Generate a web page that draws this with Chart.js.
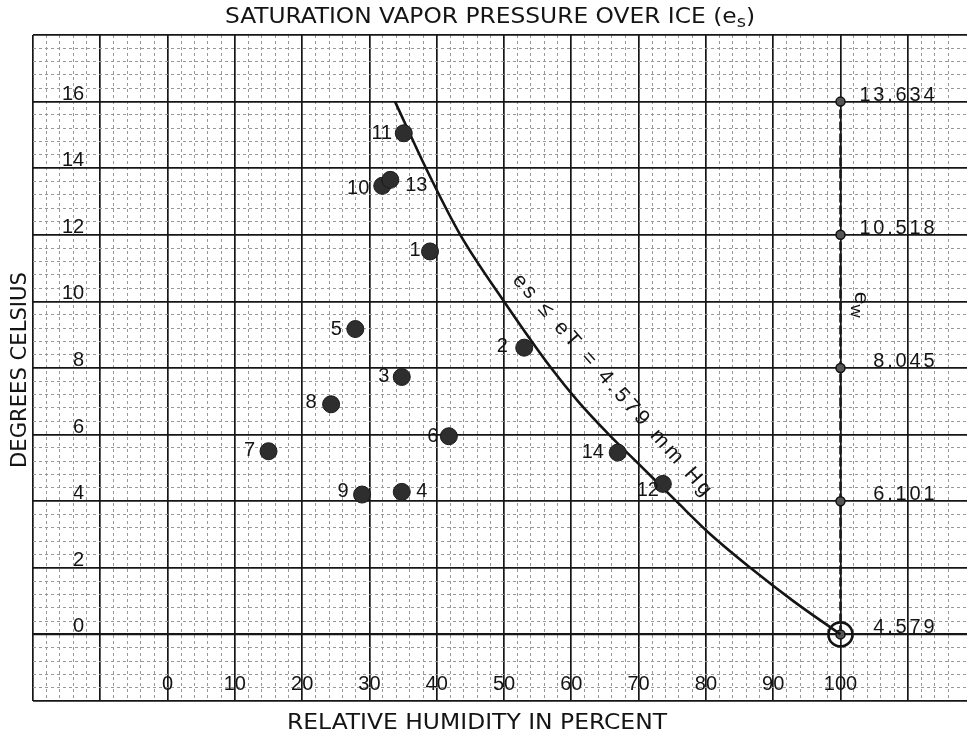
<!DOCTYPE html>
<html>
<head>
<meta charset="utf-8">
<title>Saturation vapor pressure over ice</title>
<script src="https://cdn.jsdelivr.net/npm/chart.js@4.4.1/dist/chart.umd.min.js"></script>
<style>
  html, body { margin: 0; padding: 0; background: #fff; }
  #wrap { width: 967px; height: 734px; }
</style>
</head>
<body>
<div id="wrap"><canvas id="chart" width="967" height="734"></canvas></div>
<script>
// observations: relative humidity (%) and temperature (deg C)
const obsLabels = ['1', '2', '3', '4', '5', '6', '7', '8', '9', '10', '11', '12', '13', '14'];
const obsRH = [39.0, 53.0, 34.8, 34.8, 27.9, 41.8, 15.0, 24.3, 28.9, 31.9, 35.1, 73.6, 33.1, 66.9];
const obsTemp = [11.5, 8.61, 7.73, 4.28, 9.17, 5.95, 5.5, 6.91, 4.2, 13.47, 15.05, 4.52, 13.65, 5.46];

// hand drawn curve es = eT = 4.579 mm Hg
const curveRH = [33.8, 38.4, 43.5, 50.0, 57.0, 61.0, 65.6, 70.6, 75.6, 80.7, 86.6, 93.0, 100];
const curveTemp = [16, 14, 12, 10, 8, 7, 6, 5, 4, 3, 2, 1, 0];

// saturation over water (ew) marked on the 100 % line
const ewTemp = [0, 4, 8, 12, 16];
const ewRH = [100, 100, 100, 100, 100];
const ewValues = ['4.579', '6.101', '8.045', '10.518', '13.634'];

// tick labels written inside the sheet
const xTickLabels = [0, 10, 20, 30, 40, 50, 60, 70, 80, 90, 100];
const yTickLabels = [0, 2, 4, 6, 8, 10, 12, 14, 16];

const FONT_LETTER = '"DejaVu Sans Condensed", "DejaVu Sans", sans-serif';
const FONT_DIGIT = '"Liberation Sans", Arial, sans-serif';
const INK = '#141414';

// label offsets (px) from each dot centre
const labelOffsets = {
  '1': [-15, -1], '2': [-22, -1], '3': [-18, -1], '4': [20, 0], '5': [-19, 0],
  '6': [-16, 0], '7': [-19, -1], '8': [-20, -2], '9': [-19, -3], '10': [-24, 3],
  '11': [-22, 0], '12': [-15, 7], '13': [26, 6], '14': [-25, 0]
};

const toPoints = (xs, ys) => xs.map((x, i) => ({ x: x, y: ys[i] }));

const near = (v, step) => Math.abs(v / step - Math.round(v / step)) < 1e-6;

// draws text centred on the origin, stretched or squeezed to a width
function fitText(ctx, text, width) {
  ctx.save();
  if ('letterSpacing' in ctx) ctx.letterSpacing = '0px';
  const w = ctx.measureText(text).width;
  if (width > w && 'letterSpacing' in ctx && text.length > 1) {
    const sp = (width - w) / (text.length - 1);
    ctx.letterSpacing = sp + 'px';
    ctx.textAlign = 'left';
    ctx.fillText(text, -width / 2, 0);
  } else {
    ctx.scale(width / w, 1);
    ctx.textAlign = 'center';
    ctx.fillText(text, 0, 0);
  }
  ctx.restore();
}

// text runs with subscripts, centred on origin, scaled to width
function drawRuns(ctx, runs, family, width) {
  let total = 0;
  runs.forEach(r => {
    ctx.font = r.size + 'px ' + family;
    r.w = ctx.measureText(r.t).width;
    total += r.w;
  });
  ctx.save();
  ctx.scale(width / total, 1);
  ctx.textAlign = 'left';
  let x = -total / 2;
  runs.forEach(r => {
    ctx.font = r.size + 'px ' + family;
    ctx.fillText(r.t, x, r.dy || 0);
    x += r.w;
  });
  ctx.restore();
}

const sheetText = {
  id: 'sheetText',
  afterDatasetsDraw(chart) {
    const { ctx, scales: { x, y } } = chart;
    ctx.save();
    ctx.fillStyle = INK;
    ctx.textBaseline = 'alphabetic';

    // tick labels
    ctx.font = '20px ' + FONT_DIGIT;
    ctx.textAlign = 'center';
    xTickLabels.forEach(v => {
      ctx.fillText(String(v), x.getPixelForValue(v), y.getPixelForValue(-1.45) + 7);
    });
    ctx.textAlign = 'right';
    yTickLabels.forEach(v => {
      ctx.fillText(String(v), x.getPixelForValue(-12.4), y.getPixelForValue(v) - 2);
    });

    // observation numbers
    ctx.textAlign = 'center';
    ctx.textBaseline = 'middle';
    const obsMeta = chart.getDatasetMeta(0);
    obsMeta.data.forEach((pt, i) => {
      const off = labelOffsets[obsLabels[i]] || [-18, 0];
      ctx.fillText(obsLabels[i], pt.x + off[0], pt.y + off[1]);
    });

    // ew values on the right
    ctx.textBaseline = 'alphabetic';
    ctx.textAlign = 'right';
    if ('letterSpacing' in ctx) ctx.letterSpacing = '2.8px';
    ewValues.forEach((s, i) => {
      ctx.fillText(s, x.getPixelForValue(114.4), y.getPixelForValue(ewTemp[i]) - 1);
    });
    if ('letterSpacing' in ctx) ctx.letterSpacing = '0px';

    // ew label along the 100 % line
    ctx.save();
    ctx.translate(x.getPixelForValue(102.2), y.getPixelForValue(9.9));
    ctx.rotate(Math.PI / 2);
    drawRuns(ctx, [{ t: 'e', size: 21 }, { t: 'w', size: 17, dy: 4 }], FONT_DIGIT, 26);
    ctx.restore();

    // curve caption
    ctx.save();
    ctx.translate(612, 385);
    ctx.rotate(48.4 * Math.PI / 180);
    ctx.font = '21px ' + FONT_DIGIT;
    ctx.textBaseline = 'middle';
    fitText(ctx, 'es \u2264 eT = 4.579 mm Hg', 289);
    ctx.restore();
    ctx.restore();
  },
  afterDraw(chart) {
    const { ctx } = chart;
    ctx.save();
    ctx.fillStyle = INK;
    ctx.textBaseline = 'alphabetic';

    ctx.save();
    ctx.translate(490, 22.5);
    drawRuns(ctx, [
      { t: 'SATURATION VAPOR PRESSURE OVER ICE (e', size: 21 },
      { t: 's', size: 16, dy: 4 },
      { t: ')', size: 21 }
    ], FONT_LETTER, 530);
    ctx.restore();

    ctx.save();
    ctx.translate(477, 728.5);
    drawRuns(ctx, [{ t: 'RELATIVE HUMIDITY IN PERCENT', size: 21 }], FONT_LETTER, 380);
    ctx.restore();

    ctx.save();
    ctx.translate(25.5, 370);
    ctx.rotate(-Math.PI / 2);
    drawRuns(ctx, [{ t: 'DEGREES CELSIUS', size: 21 }], FONT_LETTER, 196);
    ctx.restore();

    ctx.restore();
  }
};

const gridStyle = (step) => ({
  drawTicks: false,
  color: c => (c.tick && near(c.tick.value, step)) ? '#161616' : '#999999',
  lineWidth: c => {
    if (!c.tick) return 1;
    if (step === 2 && Math.abs(c.tick.value) < 1e-6) return 2.3;
    return near(c.tick.value, step) ? 1.7 : 1;
  }
});

const borderStyle = (step) => ({
  display: false,
  dash: c => (c.tick && !near(c.tick.value, step)) ? [3, 3] : []
});

new Chart(document.getElementById('chart'), {
  type: 'scatter',
  data: {
    datasets: [
      {
        label: 'Observations',
        data: toPoints(obsRH, obsTemp),
        pointRadius: 8.5,
        pointBackgroundColor: '#2e2e2e',
        pointBorderColor: '#1a1a1a',
        pointBorderWidth: 1
      },
      {
        label: 'es = eT',
        data: toPoints(curveRH, curveTemp),
        showLine: true,
        cubicInterpolationMode: 'monotone',
        borderColor: INK,
        borderWidth: 2.6,
        pointRadius: 0
      },
      {
        label: 'ew',
        data: toPoints(ewRH, ewTemp),
        showLine: true,
        borderColor: '#1a1a1a',
        borderWidth: 2.6,
        borderDash: [9, 3],
        pointRadius: 4.5,
        pointBackgroundColor: '#555',
        pointBorderColor: '#111',
        pointBorderWidth: 1.5
      },
      {
        label: 'frost point',
        data: [{ x: ewRH[0], y: ewTemp[0] }],
        pointRadius: 12,
        pointBackgroundColor: 'rgba(0,0,0,0)',
        pointBorderColor: INK,
        pointBorderWidth: 2.6
      }
    ]
  },
  options: {
    responsive: false,
    animation: false,
    layout: { autoPadding: false, padding: { left: 33, right: 0, top: 35, bottom: 33 } },
    plugins: { legend: { display: false }, tooltip: { enabled: false } },
    scales: {
      x: {
        type: 'linear',
        min: -20,
        max: 118.8,
        ticks: { display: false, stepSize: 2 },
        grid: gridStyle(10),
        border: borderStyle(10)
      },
      y: {
        type: 'linear',
        min: -2,
        max: 18,
        ticks: { display: false, stepSize: 0.4 },
        grid: gridStyle(2),
        border: borderStyle(2)
      }
    }
  },
  plugins: [sheetText]
});
</script>
</body>
</html>
